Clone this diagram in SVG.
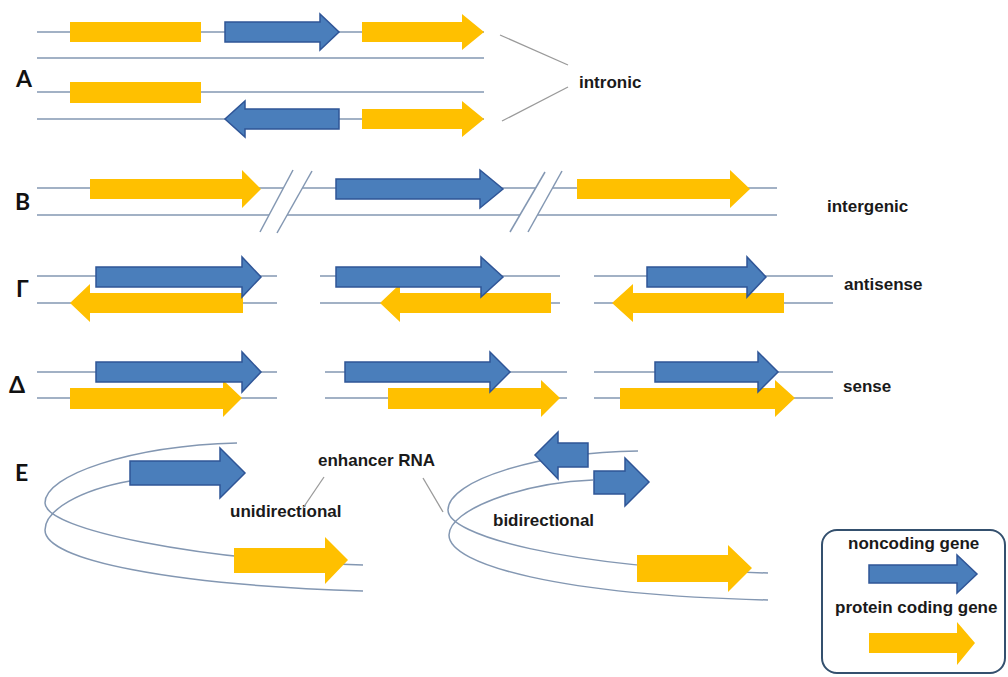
<svg xmlns="http://www.w3.org/2000/svg" width="1008" height="677" viewBox="0 0 1008 677">
<style>
.dna{stroke:#8397b2;stroke-width:1.5;fill:none}
.nc{fill:#4a7ebb;stroke:#2f5597;stroke-width:1.5;stroke-linejoin:miter}
.pc{fill:#ffc000}
.lead{stroke:#9a9a9a;stroke-width:1.3;fill:none}
.lbl{font-family:Lato,"Open Sans",sans-serif;font-weight:700;font-size:23px;fill:#111}
.txt{font-family:"Liberation Sans",Arial,sans-serif;font-weight:700;font-size:17px;fill:#1a1a1a}
.brk{fill:#fff;stroke:#8397b2;stroke-width:1.3}
</style>
<rect width="1008" height="677" fill="#fff"/>

<g id="sectionA">
<text class="lbl" x="16" y="87">A</text>
<line class="dna" x1="37" y1="32" x2="484" y2="32"/>
<line class="dna" x1="37" y1="58" x2="484" y2="58"/>
<line class="dna" x1="37" y1="92" x2="484" y2="92"/>
<line class="dna" x1="37" y1="119" x2="484" y2="119"/>
<rect class="pc" x="70" y="22" width="131" height="20"/>
<path class="nc" d="M225,22 H320 V14 L339,32 L320,50 V42 H225 Z"/>
<path class="pc" d="M362,22 H462 V14 L484,32 L462,50 V42 H362 Z"/>
<rect class="pc" x="70" y="82" width="131" height="21"/>
<path class="nc" d="M339,109 H245 V101 L225,119 L245,137 V129 H339 Z"/>
<path class="pc" d="M362,109 H462 V101 L484,119 L462,137 V129 H362 Z"/>
<text class="txt" x="579" y="88">intronic</text>
</g>

<g id="sectionB">
<text class="lbl" x="15" y="210">B</text>
<line class="dna" x1="37" y1="188" x2="777" y2="188"/>
<line class="dna" x1="37" y1="215" x2="777" y2="215"/>
<path class="pc" d="M90,179 H242 V170 L261,189 L242,208 V199 H90 Z"/>
<path class="nc" d="M336,179 H480 V170 L503,189 L480,208 V199 H336 Z"/>
<path class="pc" d="M577,179 H730 V170 L750,189 L730,208 V199 H577 Z"/>
<polygon fill="#fff" points="260,232 293,170 312,171 277,233"/>
<line class="dna" x1="260" y1="232" x2="293" y2="170"/>
<line class="dna" x1="277" y1="233" x2="312" y2="171"/>
<polygon fill="#fff" points="510,232 545,172 562,171 528,232"/>
<line class="dna" x1="510" y1="232" x2="545" y2="172"/>
<line class="dna" x1="528" y1="232" x2="562" y2="171"/>
<text class="txt" x="827" y="212">intergenic</text>
</g>

<g id="sectionG">
<text class="lbl" x="16" y="297">Γ</text>
<line class="dna" x1="37" y1="276" x2="277" y2="276"/>
<line class="dna" x1="37" y1="303" x2="277" y2="303"/>
<line class="dna" x1="320" y1="276" x2="560" y2="276"/>
<line class="dna" x1="320" y1="303" x2="560" y2="303"/>
<line class="dna" x1="594" y1="276" x2="833" y2="276"/>
<line class="dna" x1="594" y1="303" x2="833" y2="303"/>
<path class="pc" d="M243,293 H90 V284 L70,303 L90,322 V313 H243 Z"/>
<path class="nc" d="M96,267 H242 V257 L261,277 L242,297 V287 H96 Z"/>
<path class="pc" d="M551,293 H400 V284 L380,303 L400,322 V313 H551 Z"/>
<path class="nc" d="M336,267 H481 V257 L503,277 L481,297 V287 H336 Z"/>
<path class="pc" d="M784,293 H633 V284 L612,303 L633,322 V313 H784 Z"/>
<path class="nc" d="M647,267 H747 V257 L766,277 L747,297 V287 H647 Z"/>
<text class="txt" x="844" y="290">antisense</text>
</g>

<g id="sectionD">
<text class="lbl" x="9" y="393">Δ</text>
<line class="dna" x1="37" y1="372" x2="277" y2="372"/>
<line class="dna" x1="37" y1="398" x2="277" y2="398"/>
<line class="dna" x1="325" y1="372" x2="567" y2="372"/>
<line class="dna" x1="325" y1="398" x2="567" y2="398"/>
<line class="dna" x1="594" y1="372" x2="833" y2="372"/>
<line class="dna" x1="594" y1="398" x2="833" y2="398"/>
<path class="pc" d="M70,388 H223 V380 L242,398 L223,417 V409 H70 Z"/>
<path class="nc" d="M96,362 H242 V352 L261,372 L242,392 V382 H96 Z"/>
<path class="pc" d="M388,388 H541 V380 L560,398 L541,417 V409 H388 Z"/>
<path class="nc" d="M345,362 H490 V352 L510,372 L490,392 V382 H345 Z"/>
<path class="pc" d="M620,388 H775 V380 L795,398 L775,417 V409 H620 Z"/>
<path class="nc" d="M655,362 H758 V352 L778,372 L758,392 V382 H655 Z"/>
<text class="txt" x="843" y="392">sense</text>
</g>

<g id="sectionE">
<text class="lbl" x="15" y="481">E</text>
<path class="dna" d="M237,443 C130,446 45,475 45,503 C45,530 200,560 363,565"/>
<path class="dna" d="M130,481 C80,490 45,510 45,530 C45,560 170,585 363,591"/>
<path class="nc" d="M130,461 H220 V448 L245,473 L220,498 V485 H130 Z"/>
<path class="pc" d="M234,548 H325 V537 L348,560 L325,584 V573 H234 Z"/>
<path class="dna" d="M638,451 C540,452 448,480 448,510 C448,535 560,567 768,573"/>
<path class="dna" d="M593,480 C520,483 449,510 449,535 C449,565 560,595 768,600"/>
<path class="nc" d="M588,443 H558 V432 L535,455 L558,479 V467 H588 Z"/>
<path class="nc" d="M594,471 H625 V458 L649,482 L625,506 V494 H594 Z"/>
<path class="pc" d="M637,555 H728 V545 L752,568 L728,592 V582 H637 Z"/>
<text class="txt" x="318" y="466">enhancer RNA</text>
<text class="txt" x="230" y="517">unidirectional</text>
<text class="txt" x="493" y="526">bidirectional</text>
</g>

<g id="connectors">
<line class="lead" x1="500" y1="35" x2="568" y2="65"/>
<line class="lead" x1="568" y1="87" x2="502" y2="121"/>
<line class="lead" x1="324" y1="477" x2="303" y2="508"/>
<line class="lead" x1="423" y1="478" x2="443" y2="512"/>
</g>

<g id="legend">
<rect x="822" y="530" width="183" height="143" rx="15" ry="15" fill="#fff" stroke="#34506e" stroke-width="2"/>
<text class="txt" x="848" y="549">noncoding gene</text>
<path class="nc" d="M869,565 H957 V555 L977,574 L957,593 V583 H869 Z"/>
<text class="txt" x="835" y="613">protein coding gene</text>
<path class="pc" d="M869,633 H957 V622 L975,643 L957,665 V653 H869 Z"/>
</g>
</svg>
